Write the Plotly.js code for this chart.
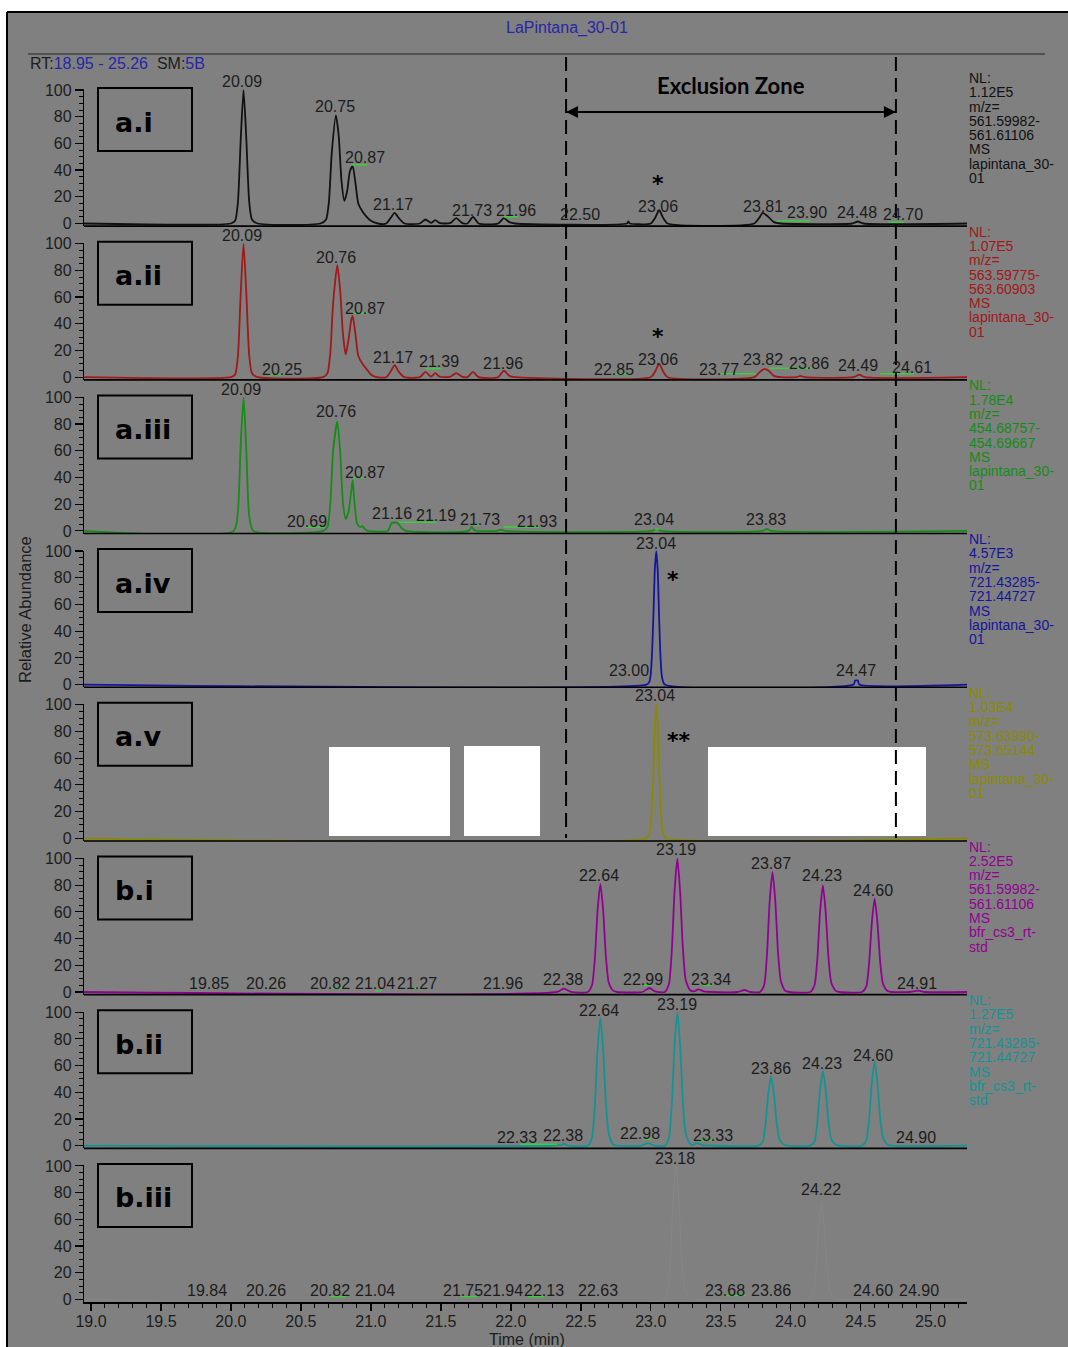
<!DOCTYPE html>
<html>
<head>
<meta charset="utf-8">
<script src="https://cdn.plot.ly/plotly-3.0.1.min.js"></script>
<style>html,body{margin:0;padding:0;background:#ffffff;}</style>
</head>
<body>
<div id="chart" style="width:1068px;height:1347px"></div>
<script>
// ---------- chromatogram data: retention time (min) and relative abundance (%) ----------
const aiTime = [18.95, 20.00, 20.03, 20.05, 20.07, 20.09, 20.11, 20.13, 20.15, 20.19,
  20.64, 20.68, 20.70, 20.72, 20.75, 20.77, 20.79, 20.81, 20.83, 20.85, 20.87, 20.89, 20.91, 20.94, 20.97, 21.00, 21.05,
  21.11, 21.14, 21.17, 21.20, 21.24,
  21.35, 21.39, 21.43, 21.46, 21.49, 21.52, 21.57, 21.61, 21.65, 21.69, 21.73, 21.77, 21.91, 21.95, 21.99, 22.03,
  22.83, 22.84, 22.85, 23.00, 23.03, 23.06, 23.09, 23.12,
  23.74, 23.78, 23.80, 23.84, 23.88, 23.93,
  24.44, 24.48, 24.52, 25.26];
const aiAbund = [0, 0, 2, 16, 63, 100, 63, 17, 3, 0,
  0, 3, 16, 52, 81, 66, 32, 17, 24, 39, 43, 30, 15, 9, 5, 2, 0,
  0, 4, 8, 4, 0,
  0, 3, 0.5, 2.5, 0.5, 0, 0.5, 4, 0.5, 0, 5, 0, 0, 4, 1, 0,
  0, 1.5, 0, 0, 4, 10, 4, 0,
  0, 5, 8, 5, 1, 0,
  0, 1.5, 0, 0];

const aiiTime = [18.95, 20.00, 20.03, 20.05, 20.07, 20.09, 20.11, 20.13, 20.15, 20.19,
  20.66, 20.69, 20.71, 20.73, 20.76, 20.78, 20.80, 20.82, 20.84, 20.86, 20.87, 20.89, 20.91, 20.94, 20.97, 21.00, 21.04,
  21.11, 21.14, 21.17, 21.20, 21.24,
  21.35, 21.39, 21.43, 21.46, 21.49, 21.52, 21.57, 21.61, 21.65, 21.69, 21.73, 21.77, 21.91, 21.95, 21.99, 22.03,
  23.00, 23.03, 23.06, 23.09, 23.12,
  23.74, 23.78, 23.81, 23.84, 23.88, 23.93,
  24.04, 24.07, 24.10,
  24.45, 24.49, 24.53, 25.26];
const aiiAbund = [0, 0, 2, 16, 63, 100, 63, 17, 3, 0,
  0, 3, 18, 55, 84, 66, 33, 17, 28, 43, 46, 32, 16, 10, 6, 2, 0,
  0, 4, 9, 4, 0,
  0, 4, 0.5, 3, 0.5, 0, 0.5, 3, 0.5, 0, 4, 0, 0, 5, 1, 0,
  0, 4, 10, 4, 0,
  0, 4, 6, 5, 1, 0,
  0, 1, 0,
  0, 2, 0, 0];

const aiiiTime = [18.95, 20.02, 20.05, 20.07, 20.09, 20.11, 20.13, 20.16,
  20.66, 20.69, 20.71, 20.73, 20.76, 20.78, 20.80, 20.82, 20.84, 20.86, 20.87, 20.88, 20.90, 20.92, 20.94, 20.96, 20.98,
  21.12, 21.15, 21.19, 21.22, 21.25,
  21.70, 21.72, 21.74, 21.76,
  21.90, 21.93, 21.96,
  23.01, 23.04, 23.07,
  23.80, 23.83, 23.86, 25.26];
const aiiiAbund = [0, 0, 15, 65, 100, 60, 12, 0,
  0, 3, 20, 60, 82, 60, 22, 9, 14, 30, 38, 25, 6, 3, 3.5, 1, 0,
  0, 6, 6, 2, 0,
  0, 3, 0.5, 0,
  0, 1, 0,
  0, 1.5, 0,
  0, 1.5, 0, 0];

const aivTime = [18.95, 22.97, 22.99, 23.00, 23.01, 23.02, 23.03, 23.04, 23.05, 23.06, 23.07, 23.08, 23.10,
  24.45, 24.46, 24.48, 24.49, 25.26];
const aivAbund = [0, 0, 2, 8, 25, 55, 88, 100, 85, 50, 20, 6, 0,
  0, 3, 3, 0, 0];

const avTime = [18.95, 22.97, 22.99, 23.00, 23.01, 23.02, 23.03, 23.04, 23.05, 23.06, 23.07, 23.08, 23.09, 23.11, 25.26];
const avAbund = [0, 0, 3, 9, 25, 52, 85, 100, 85, 52, 25, 9, 3, 0, 0];

const biTime = [18.95, 22.33, 22.38, 22.43,
  22.55, 22.58, 22.60, 22.62, 22.64, 22.66, 22.68, 22.70, 22.73, 22.76,
  22.94, 22.99, 23.03,
  23.10, 23.13, 23.15, 23.17, 23.19, 23.21, 23.23, 23.25, 23.28, 23.31, 23.34, 23.38, 23.45,
  23.62, 23.67, 23.71,
  23.78, 23.81, 23.83, 23.85, 23.87, 23.89, 23.91, 23.93, 23.96, 23.99,
  24.14, 24.17, 24.19, 24.21, 24.23, 24.25, 24.27, 24.29, 24.32, 24.35,
  24.51, 24.54, 24.56, 24.58, 24.60, 24.62, 24.64, 24.66, 24.69, 24.72,
  24.85, 24.91, 24.96, 25.26];
const biAbund = [0, 0, 2.5, 0,
  0, 5, 24, 61, 81, 61, 26, 7, 1, 0,
  0, 3, 0.5,
  0, 6, 30, 75, 100, 75, 32, 9, 1.5, 0.5, 2, 0.5, 0,
  0, 1.5, 0,
  0, 5, 27, 68, 90, 68, 29, 8, 1, 0,
  0, 5, 24, 60, 80, 60, 26, 7, 1, 0,
  0, 4, 21, 52, 70, 52, 22, 6, 1, 0,
  0, 1, 0, 0];

const biiTime = [18.95, 22.30, 22.33, 22.36, 22.38, 22.41,
  22.55, 22.58, 22.60, 22.62, 22.64, 22.66, 22.68, 22.70, 22.73, 22.76,
  22.93, 22.98, 23.02,
  23.10, 23.13, 23.15, 23.17, 23.19, 23.21, 23.23, 23.25, 23.28, 23.30, 23.33, 23.37, 23.44,
  23.77, 23.80, 23.82, 23.84, 23.86, 23.88, 23.90, 23.92, 23.95, 23.98,
  24.14, 24.17, 24.19, 24.21, 24.23, 24.25, 24.27, 24.29, 24.32, 24.35,
  24.51, 24.54, 24.56, 24.58, 24.60, 24.62, 24.64, 24.66, 24.69, 24.72, 25.26];
const biiAbund = [0, 0, 0.5, 0.3, 1.5, 0,
  0, 6, 29, 72, 96, 72, 31, 9, 1, 0,
  0, 2, 0.3,
  0, 6, 30, 75, 100, 75, 32, 9, 1.5, 0.5, 2, 0.5, 0,
  0, 3, 16, 39, 52, 39, 17, 5, 1, 0,
  0, 3, 17, 42, 56, 42, 18, 5, 1, 0,
  0, 4, 19, 47, 63, 47, 20, 6, 1, 0, 0];

const biiiTime = [18.95, 23.09, 23.12, 23.14, 23.16, 23.18, 23.20, 23.22, 23.24, 23.27, 23.30,
  24.13, 24.16, 24.18, 24.20, 24.22, 24.24, 24.26, 24.28, 24.31, 24.34, 25.26];
const biiiAbund = [0, 0, 6, 30, 75, 100, 75, 32, 9, 1, 0,
  0, 4, 22, 54, 72, 54, 23, 6, 1, 0, 0];

// ---------- integration baselines drawn by the peak detector: [start, end, abundance] ----------
const aiBaselines = [[20.86, 20.975, 44], [21.95, 22.05, 5], [23.90, 24.14, 2], [24.70, 24.81, 1]];
const aiiBaselines = [[20.26, 20.38, 2], [20.87, 20.97, 48], [21.39, 21.50, 6.5], [22.75, 22.85, 2.5],
  [23.50, 23.75, 2.5], [23.85, 24.15, 6.8], [24.64, 24.88, 2.5]];
const aiiiBaselines = [[20.53, 20.67, 3], [20.86, 20.96, 40], [21.20, 21.47, 6.5], [21.74, 21.78, 4.5],
  [21.95, 22.20, 3], [23.03, 23.06, 1.5]];
const aivBaselines = [];
const avBaselines = [];
const biBaselines = [[20.72, 20.81, 3], [21.03, 21.08, 1], [21.28, 21.34, 3], [22.95, 23.01, 5], [23.37, 23.44, 5]];
const biiBaselines = [[22.07, 22.33, 1], [22.95, 23.00, 5], [23.34, 23.45, 4]];
const biiiBaselines = [[20.71, 20.82, 2], [21.64, 21.76, 2], [22.12, 22.24, 2], [23.54, 23.68, 3]];

// ---------- peak retention-time labels (text, time position, abundance position) ----------
const aiLabelText = ['20.09','20.75','20.87','21.17','21.73','21.96','22.50','23.06','23.81','23.90','24.48','24.70'];
const aiLabelX = [20.08, 20.745, 20.96, 21.16, 21.72, 22.04, 22.495, 23.05, 23.80, 24.115, 24.475, 24.80];
const aiLabelY = [106.7, 87.3, 49.8, 14.6, 10.1, 10.1, 7.1, 13.1, 13.1, 7.9, 7.9, 6.4];

const aiiLabelText = ['20.09','20.25','20.76','20.87','21.17','21.39','21.96','22.85','23.06','23.77','23.82','23.86','24.49','24.61'];
const aiiLabelX = [20.08, 20.365, 20.75, 20.96, 21.16, 21.49, 21.945, 22.74, 23.05, 23.49, 23.80, 24.13, 24.48, 24.865];
const aiiLabelY = [106.5, 6.1, 89.3, 51.8, 15.1, 11.4, 10.6, 6.1, 13.6, 6.1, 12.9, 10.6, 8.4, 6.9];

const aiiiLabelText = ['20.09','20.69','20.76','20.87','21.16','21.19','21.73','21.93','23.04','23.83'];
const aiiiLabelX = [20.075, 20.54, 20.75, 20.96, 21.15, 21.465, 21.78, 22.19, 23.025, 23.825];
const aiiiLabelY = [106, 7.4, 89.1, 43.4, 12.7, 11.9, 8.9, 7.4, 8.2, 8.9];

const aivLabelText = ['23.00','23.04','24.47'];
const aivLabelX = [22.845, 23.04, 24.465];
const aivLabelY = [10.9, 106, 10.2];

const avLabelText = ['23.04'];
const avLabelX = [23.03];
const avLabelY = [106.6];

const biLabelText = ['19.85','20.26','20.82','21.04','21.27','21.96','22.38','22.64','22.99','23.19','23.34','23.87','24.23','24.60','24.91'];
const biLabelX = [19.845, 20.25, 20.71, 21.03, 21.33, 21.945, 22.375, 22.63, 22.945, 23.18, 23.43, 23.86, 24.225, 24.59, 24.90];
const biLabelY = [6.7, 6, 6.7, 6.7, 6.7, 6, 9, 87.6, 9, 106.4, 9, 96.6, 86.9, 76.4, 6.7];

const biiLabelText = ['22.33','22.38','22.64','22.98','23.19','23.33','23.86','24.23','24.60','24.90'];
const biiLabelX = [22.045, 22.375, 22.63, 22.925, 23.19, 23.445, 23.86, 24.225, 24.59, 24.895];
const biiLabelY = [5.8, 7.3, 100.9, 8.8, 106.1, 8, 58.2, 61.9, 67.9, 6.5];

const biiiLabelText = ['19.84','20.26','20.82','21.04','21.75','21.94','22.13','22.63','23.18','23.68','23.86','24.22','24.60','24.90'];
const biiiLabelX = [19.83, 20.25, 20.71, 21.03, 21.66, 21.945, 22.24, 22.625, 23.175, 23.53, 23.86, 24.215, 24.59, 24.915];
const biiiLabelY = [7, 6.3, 7, 7, 6.3, 6.3, 6.3, 7, 105.9, 7, 7, 82, 7, 6.3];

// ---------- scan filter / normalisation text beside each trace ----------
const aiInfo = ['NL:', '1.12E5', 'm/z=', '561.59982-', '561.61106', 'MS', 'lapintana_30-', '01'];
const aiiInfo = ['NL:', '1.07E5', 'm/z=', '563.59775-', '563.60903', 'MS', 'lapintana_30-', '01'];
const aiiiInfo = ['NL:', '1.78E4', 'm/z=', '454.68757-', '454.69667', 'MS', 'lapintana_30-', '01'];
const aivInfo = ['NL:', '4.57E3', 'm/z=', '721.43285-', '721.44727', 'MS', 'lapintana_30-', '01'];
const avInfo = ['NL:', '1.03E4', 'm/z=', '573.63990-', '573.65144', 'MS', 'lapintana_30-', '01'];
const biInfo = ['NL:', '2.52E5', 'm/z=', '561.59982-', '561.61106', 'MS', 'bfr_cs3_rt-', 'std'];
const biiInfo = ['NL:', '1.27E5', 'm/z=', '721.43285-', '721.44727', 'MS', 'bfr_cs3_rt-', 'std'];
const biiiInfo = [];

const panelNames = ['a.i', 'a.ii', 'a.iii', 'a.iv', 'a.v', 'b.i', 'b.ii', 'b.iii'];
const yTicks = [0, 20, 40, 60, 80, 100];
const xRange = [18.95, 25.26];
const exclusionStart = 22.395, exclusionEnd = 24.752;

// asterisks marking the peaks of interest: [panel, time, abundance, text]
const markers = [[0, 23.05, 30.2, '*'], [1, 23.05, 30.8, '*'], [3, 23.16, 79.1, '*'], [4, 23.20, 73.6, '**']];

// ---------- page geometry (pixels) ----------
const W = 1068, H = 1347;
const plotLeft = 84, plotRight = 967, plotWidth = plotRight - plotLeft;
const firstZero = 223.5, panelStep = 153.7, pxPerPct = 1.335;
const yMin = -2, yMax = 100.4;
const zeroPx = i => firstZero + panelStep * i;
const px2x = p => (p - plotLeft) / plotWidth;
const py2y = p => 1 - p / H;
const yRef = i => (i === 0 ? 'y' : 'y' + (i + 1));
const yKey = i => (i === 0 ? 'yaxis' : 'yaxis' + (i + 1));

const BG = '#808080';
const TXT = '#1c1c1c';
const SANS = 'Liberation Sans, Arial, sans-serif';

const panels = [
  { t: aiTime,   v: aiAbund,   base: aiBaselines,   color: '#111111', info: aiInfo,   lt: aiLabelText,   lx: aiLabelX,   ly: aiLabelY },
  { t: aiiTime,  v: aiiAbund,  base: aiiBaselines,  color: '#a01818', info: aiiInfo,  lt: aiiLabelText,  lx: aiiLabelX,  ly: aiiLabelY },
  { t: aiiiTime, v: aiiiAbund, base: aiiiBaselines, color: '#168c16', info: aiiiInfo, lt: aiiiLabelText, lx: aiiiLabelX, ly: aiiiLabelY },
  { t: aivTime,  v: aivAbund,  base: aivBaselines,  color: '#15159c', info: aivInfo,  lt: aivLabelText,  lx: aivLabelX,  ly: aivLabelY },
  { t: avTime,   v: avAbund,   base: avBaselines,   color: '#8a8a00', info: avInfo,   lt: avLabelText,   lx: avLabelX,   ly: avLabelY },
  { t: biTime,   v: biAbund,   base: biBaselines,   color: '#920092', info: biInfo,   lt: biLabelText,   lx: biLabelX,   ly: biLabelY },
  { t: biiTime,  v: biiAbund,  base: biiBaselines,  color: '#139494', info: biiInfo,  lt: biiLabelText,  lx: biiLabelX,  ly: biiLabelY },
  { t: biiiTime, v: biiiAbund, base: biiiBaselines, color: '#868686', info: biiiInfo, lt: biiiLabelText, lx: biiiLabelX, ly: biiiLabelY }
];

// ---------- build figure ----------
const traces = [];
const shapes = [];
const annotations = [];
const layout = {
  width: W, height: H, autosize: false,
  margin: { l: plotLeft, r: W - plotRight, t: 0, b: 0, pad: 0 },
  paper_bgcolor: BG, plot_bgcolor: 'rgba(0,0,0,0)',
  showlegend: false, hovermode: false,
  font: { family: SANS, color: TXT, size: 16 },
  xaxis: {
    range: xRange, anchor: 'y8', domain: [0, 1],
    showline: true, linecolor: '#000', linewidth: 2, mirror: false,
    ticks: 'outside', tickmode: 'linear', tick0: 19, dtick: 0.5, ticklen: 7, tickwidth: 1.5, tickcolor: '#000',
    ticklabelstandoff: -3,
    tickformat: '.1f', tickfont: { family: SANS, size: 16, color: TXT },
    minor: { ticks: 'outside', tick0: 19, dtick: 0.1, ticklen: 4, tickwidth: 1, tickcolor: '#000', showgrid: false },
    showgrid: false, zeroline: false, fixedrange: true
  }
};

panels.forEach((p, i) => {
  const z = zeroPx(i);
  const bottomPx = z - yMin * pxPerPct;
  const topPx = z - yMax * pxPerPct;
  layout[yKey(i)] = {
    domain: [py2y(bottomPx), py2y(topPx)], range: [yMin, yMax], anchor: 'x',
    showline: true, linecolor: '#000', linewidth: 1.2,
    ticks: 'outside', tickmode: 'array', tickvals: yTicks, ticklen: 8, tickwidth: 1.2, tickcolor: '#000',
    tickfont: { family: SANS, size: 16, color: TXT },
    minor: { ticks: 'outside', tick0: 0, dtick: 5, ticklen: 4, tickwidth: 1, tickcolor: '#000', showgrid: false },
    showgrid: false, zeroline: false, fixedrange: true
  };

  traces.push({
    type: 'scatter', mode: 'lines', x: p.t, y: p.v, xaxis: 'x', yaxis: yRef(i),
    line: { color: p.color, width: i === 7 ? 1 : 1.8, shape: 'spline', smoothing: 0.6 }, hoverinfo: 'skip'
  });

  // short green integration baselines
  if (p.base.length) {
    const bx = [], by = [];
    p.base.forEach(b => { bx.push(b[0], b[1], null); by.push(b[2], b[2], null); });
    traces.push({ type: 'scatter', mode: 'lines', x: bx, y: by, xaxis: 'x', yaxis: yRef(i),
      line: { color: '#3ccf3c', width: 1.5 }, hoverinfo: 'skip' });
  }

  // black baseline under each trace
  if (i < 7) {
    shapes.push({ type: 'line', xref: 'paper', yref: yRef(i) + ' domain', x0: 0, x1: 1, y0: 0, y1: 0,
      line: { color: '#000', width: 1.6 } });
  }

  // panel name box
  const boxTop = 88 + panelStep * i;
  shapes.push({ type: 'rect', xref: 'paper', yref: 'paper', x0: px2x(98), x1: px2x(192), y0: py2y(boxTop), y1: py2y(boxTop + 63),
    line: { color: '#000', width: 2 }, fillcolor: 'rgba(0,0,0,0)' });
  annotations.push({ xref: 'paper', yref: 'paper', x: px2x(113), y: py2y(boxTop + 34), xanchor: 'left', yanchor: 'middle',
    text: panelNames[i], showarrow: false, font: { family: 'DejaVu Sans, sans-serif', size: 27, color: '#000', weight: 'bold' } });

  // peak labels; those above the top of the axis are pinned to it and shifted up in pixels
  p.lt.forEach((txt, k) => {
    const yv = p.ly[k];
    const over = Math.max(0, yv - yMax);
    annotations.push({ xref: 'x', yref: yRef(i), x: p.lx[k], y: yv - over, yshift: over * pxPerPct,
      xanchor: 'center', yanchor: 'middle',
      text: txt, showarrow: false, font: { family: SANS, size: 16, color: TXT } });
  });

  // normalisation / filter text on the right
  p.info.forEach((line, k) => {
    annotations.push({ xref: 'paper', yref: 'paper', x: px2x(967), y: py2y(78 + panelStep * i + 14.3 * k),
      xanchor: 'left', yanchor: 'middle', text: line, showarrow: false,
      font: { family: SANS, size: 14, color: p.color } });
  });
});

markers.forEach(m => {
  annotations.push({ xref: 'x', yref: yRef(m[0]), x: m[1], y: m[2], xanchor: 'center', yanchor: 'middle',
    text: m[3], showarrow: false, font: { family: 'DejaVu Sans, sans-serif', size: 22, color: '#000', weight: 'bold' } });
});

// white blocks over part of panel a.v
[[329, 747, 450, 836], [464, 746, 540, 836], [708, 747, 926, 836]].forEach(r => {
  shapes.push({ type: 'rect', xref: 'paper', yref: 'paper', x0: px2x(r[0]), x1: px2x(r[2]), y0: py2y(r[1]), y1: py2y(r[3]),
    line: { width: 0 }, fillcolor: '#ffffff' });
});

// exclusion zone limits and arrow
[exclusionStart, exclusionEnd].forEach(xv => {
  shapes.push({ type: 'line', xref: 'x', yref: 'paper', x0: xv, x1: xv, y0: py2y(57), y1: py2y(838),
    line: { color: '#000', width: 2, dash: '14px,7px' } });
});
shapes.push({ type: 'line', xref: 'x', yref: 'paper', x0: exclusionStart, x1: exclusionEnd, y0: py2y(112), y1: py2y(112),
  line: { color: '#000', width: 2 } });
annotations.push({ xref: 'x', yref: 'paper', x: exclusionStart, y: py2y(112), ax: 30, ay: 0, axref: 'pixel', ayref: 'pixel',
  text: '', showarrow: true, arrowhead: 2, arrowsize: 1.2, arrowwidth: 2, arrowcolor: '#000' });
annotations.push({ xref: 'x', yref: 'paper', x: exclusionEnd, y: py2y(112), ax: -30, ay: 0, axref: 'pixel', ayref: 'pixel',
  text: '', showarrow: true, arrowhead: 2, arrowsize: 1.2, arrowwidth: 2, arrowcolor: '#000' });
annotations.push({ xref: 'paper', yref: 'paper', x: px2x(731), y: py2y(85), xanchor: 'center', yanchor: 'middle',
  text: 'Exclusion Zone', showarrow: false, font: { family: 'Lato, sans-serif', size: 22, color: '#000', weight: 'bold' } });

// frame, header and axis captions
shapes.push({ type: 'rect', xref: 'paper', yref: 'paper', x0: px2x(0), x1: px2x(W), y0: py2y(0), y1: py2y(12),
  line: { width: 0 }, fillcolor: '#ffffff' });
shapes.push({ type: 'rect', xref: 'paper', yref: 'paper', x0: px2x(0), x1: px2x(7), y0: py2y(0), y1: py2y(H),
  line: { width: 0 }, fillcolor: '#ffffff' });
shapes.push({ type: 'line', xref: 'paper', yref: 'paper', x0: px2x(7), x1: px2x(W), y0: py2y(12), y1: py2y(12),
  line: { color: '#000', width: 2 } });
shapes.push({ type: 'line', xref: 'paper', yref: 'paper', x0: px2x(7), x1: px2x(7), y0: py2y(12), y1: py2y(H),
  line: { color: '#000', width: 2 } });
shapes.push({ type: 'line', xref: 'paper', yref: 'paper', x0: px2x(28), x1: px2x(1045), y0: py2y(54), y1: py2y(54),
  line: { color: '#222', width: 1 } });

annotations.push({ xref: 'paper', yref: 'paper', x: px2x(567), y: py2y(28), xanchor: 'center', yanchor: 'middle',
  text: 'LaPintana_30-01', showarrow: false, font: { family: SANS, size: 16, color: '#2626a8' } });
annotations.push({ xref: 'paper', yref: 'paper', x: px2x(28), y: py2y(64), xanchor: 'left', yanchor: 'middle',
  text: 'RT:<span style="color:#2626a8">18.95 - 25.26</span>\u00a0\u00a0SM:<span style="color:#2626a8">5B</span>',
  showarrow: false, font: { family: SANS, size: 16, color: TXT } });
annotations.push({ xref: 'paper', yref: 'paper', x: px2x(527), y: py2y(1339), xanchor: 'center', yanchor: 'middle',
  text: 'Time (min)', showarrow: false, font: { family: SANS, size: 16, color: TXT } });
annotations.push({ xref: 'paper', yref: 'paper', x: px2x(25), y: py2y(610), xanchor: 'center', yanchor: 'middle',
  text: 'Relative Abundance', textangle: -90, showarrow: false, font: { family: SANS, size: 16.5, color: TXT } });

layout.shapes = shapes;
layout.annotations = annotations;

Plotly.newPlot('chart', traces, layout, { staticPlot: true, displayModeBar: false });
</script>
</body>
</html>
